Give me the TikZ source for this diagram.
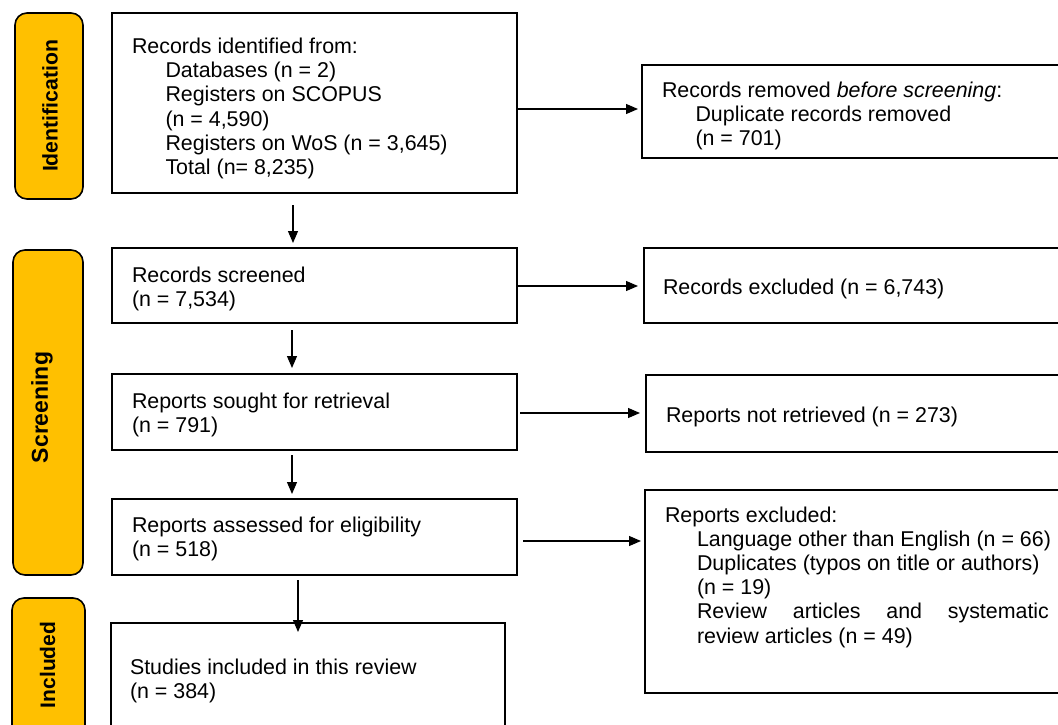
\documentclass[tikz,border=0pt]{standalone}
\usepackage{fontspec}
\setmainfont{Liberation Sans}
\usetikzlibrary{arrows.meta}
\definecolor{gold}{HTML}{FFC000}
\newcommand{\indt}{\kern33.5pt}
\tikzset{
  bar/.style={rectangle, draw=black, line width=1.6pt, fill=gold, rounded corners=12pt,
    inner sep=0pt, outer sep=0pt, anchor=north west},
  lab/.style={inner sep=0pt, outer sep=0pt, rotate=90},
  box/.style={rectangle, draw=black, line width=1.8pt, inner sep=0pt, outer sep=0pt,
    anchor=north west},
  txt/.style={anchor=base west, inner sep=0pt, outer sep=0pt},
  arr/.style={draw=black, line width=1.2pt, -{Triangle[length=12pt,width=10pt]}}
}
\begin{document}
\begin{tikzpicture}[x=1pt,y=-1pt,font=\fontsize{21.4}{24.2}\selectfont]
\useasboundingbox (0,0) rectangle (1058,725);
\clip (0,0) rectangle (1058,725);

% phase bars
\node[bar, minimum width=68pt, minimum height=186pt] (idbar) at (15,13) {};
\node[bar, minimum width=70pt, minimum height=325pt] (scbar) at (13,250) {};
\node[bar, minimum width=73pt, minimum height=150pt] (inbar) at (12,598) {};
\node[lab, font=\fontsize{21.2}{24}\selectfont\bfseries] (idlab) at (50,106) {Identification};
\node[lab, font=\fontsize{23}{26}\selectfont\bfseries] (sclab) at (42,407.5) {Screening};
\node[lab, font=\fontsize{21}{24}\selectfont\bfseries] (inlab) at (47.5,665) {Included};

% boxes
\node[box, minimum width=405pt, minimum height=180pt] (box1) at (112,13) {};
\node[box, minimum width=430pt, minimum height=93pt] (removed) at (642,65) {};
\node[box, minimum width=405pt, minimum height=75pt] (screened) at (112,248) {};
\node[box, minimum width=430pt, minimum height=75pt] (excluded) at (644,248) {};
\node[box, minimum width=405pt, minimum height=76pt] (sought) at (112,374) {};
\node[box, minimum width=430pt, minimum height=77pt] (notret) at (646,375) {};
\node[box, minimum width=405pt, minimum height=76pt] (assessed) at (112,499) {};
\node[box, minimum width=430pt, minimum height=203pt] (repexcl) at (645,490) {};
\node[box, minimum width=394pt, minimum height=150pt] (included) at (111,623) {};

% texts
\node[txt] (t1) at (132,53.5) {\vtop{\hbox{Records identified from:}\hbox{\indt Databases (n = 2)}\hbox{\indt Registers on SCOPUS}\hbox{\indt (n = 4,590)}\hbox{\indt Registers on WoS (n = 3,645)}\hbox{\indt Total (n= 8,235)}}};
\node[txt] (t2) at (662,97) {\vtop{\baselineskip=24.3pt\hbox{Records removed \textit{before screening}:}\hbox{\kern33.5pt Duplicate records removed}\hbox{\kern33.5pt (n = 701)}}};
\node[txt] (t3) at (132,282) {\vtop{\hbox{Records screened}\hbox{(n = 7,534)}}};
\node[txt] (t4) at (663,294) {Records excluded (n = 6,743)};
\node[txt] (t5) at (132,408) {\vtop{\hbox{Reports sought for retrieval}\hbox{(n = 791)}}};
\node[txt] (t6) at (666,422) {Reports not retrieved (n = 273)};
\node[txt] (t7) at (132,532) {\vtop{\hbox{Reports assessed for eligibility}\hbox{(n = 518)}}};
\node[txt] (t8) at (665,522) {\vtop{\baselineskip=24.2pt\hbox{Reports excluded:}\hbox{\kern32pt Language other than English (n = 66)}\hbox{\kern32pt Duplicates (typos on title or authors)}\hbox{\kern32pt (n = 19)}\hbox{\kern32pt\hbox to 352pt{Review\hfill articles\hfill and\hfill systematic}}\hbox{\kern32pt review articles (n = 49)}}};
\node[txt] (t9) at (130,674) {\vtop{\hbox{Studies included in this review}\hbox{(n = 384)}}};

% vertical arrows
\draw[arr, shorten <=12pt, shorten >=5pt] ([xshift=-21.5pt]box1.south) -- ([xshift=-21.5pt]box1.south |- screened.north);
\draw[arr, shorten <=7pt, shorten >=6pt] ([xshift=-22.5pt]screened.south) -- ([xshift=-22.5pt]screened.south |- sought.north);
\draw[arr, shorten <=5pt, shorten >=5pt] ([xshift=-22.5pt]sought.south) -- ([xshift=-22.5pt]sought.south |- assessed.north);
\draw[arr, shorten <=5pt, shorten >=-9pt] ([xshift=-16.5pt]assessed.south) -- ([xshift=-16.5pt]assessed.south |- included.north);

% horizontal arrows
\draw[arr, shorten >=4pt] ([yshift=-6pt]box1.east) -- ([yshift=-6pt]box1.east -| removed.west);
\draw[arr, shorten >=6pt] ([yshift=-0.5pt]screened.east) -- ([yshift=-0.5pt]screened.east -| excluded.west);
\draw[arr, shorten <=3pt, shorten >=6pt] ([yshift=-1pt]sought.east) -- ([yshift=-1pt]sought.east -| notret.west);
\draw[arr, shorten <=6pt, shorten >=4pt] ([yshift=-4pt]assessed.east) -- ([yshift=-4pt]assessed.east -| repexcl.west);
\end{tikzpicture}
\end{document}
